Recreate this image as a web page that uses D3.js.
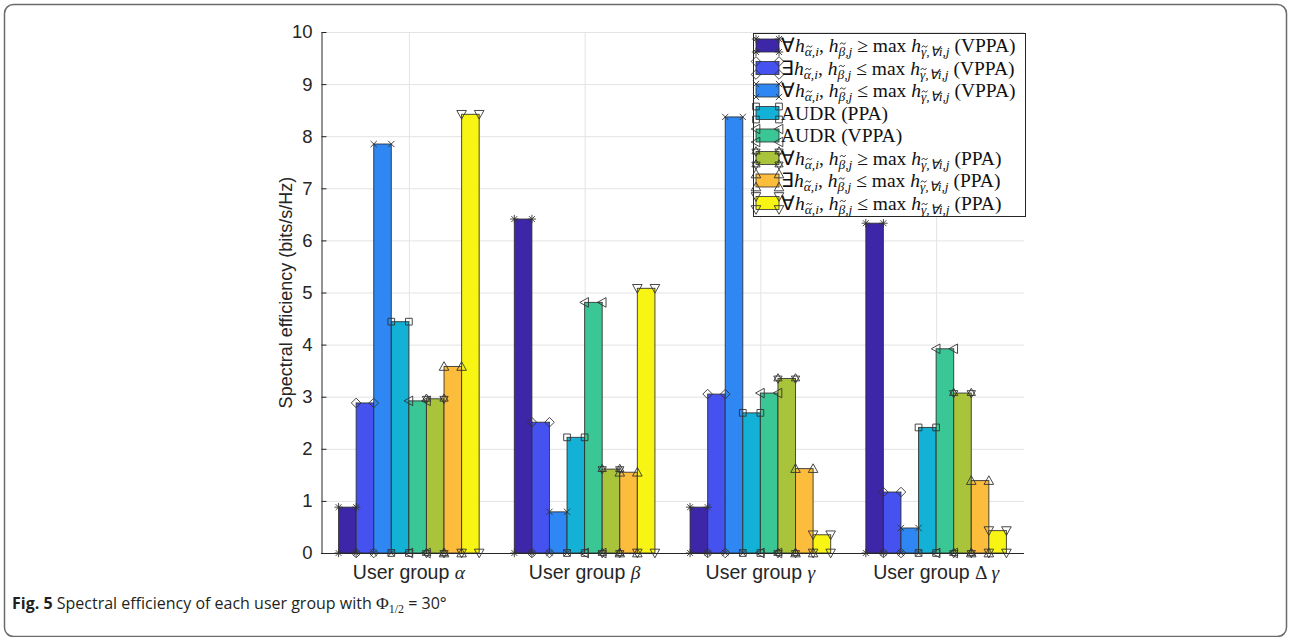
<!DOCTYPE html>
<html>
<head>
<meta charset="utf-8">
<script src="https://cdn.jsdelivr.net/npm/d3@7"></script>
<style>
  html, body { margin: 0; padding: 0; background: #fff; }
  svg { display: block; }
</style>
</head>
<body>
<div id="chart"></div>
<script>
// user groups on the x axis
const groups = ['α', 'β', 'γ', 'Δγ'];
const yTicks = [0, 1, 2, 3, 4, 5, 6, 7, 8, 9, 10];

// spectral efficiency per scheme, one value per user group
const forallGeVPPA = [0.88, 6.41, 0.88, 6.33];
const existsLeVPPA = [2.88, 2.51, 3.05, 1.17];
const forallLeVPPA = [7.85, 0.79, 8.37, 0.48];
const audrPPA = [4.44, 2.22, 2.69, 2.41];
const audrVPPA = [2.92, 4.81, 3.07, 3.92];
const forallGePPA = [2.96, 1.61, 3.35, 3.07];
const existsLePPA = [3.58, 1.55, 1.62, 1.39];
const forallLePPA = [8.42, 5.08, 0.35, 0.43];

const series = [
  { key: 'fgV', values: forallGeVPPA, q: '∀', rel: '≥', tag: 'VPPA' },
  { key: 'elV', values: existsLeVPPA, q: '∃', rel: '≤', tag: 'VPPA' },
  { key: 'flV', values: forallLeVPPA, q: '∀', rel: '≤', tag: 'VPPA' },
  { key: 'aP', values: audrPPA, plain: 'AUDR (PPA)' },
  { key: 'aV', values: audrVPPA, plain: 'AUDR (VPPA)' },
  { key: 'fgP', values: forallGePPA, q: '∀', rel: '≥', tag: 'PPA' },
  { key: 'elP', values: existsLePPA, q: '∃', rel: '≤', tag: 'PPA' },
  { key: 'flP', values: forallLePPA, q: '∀', rel: '≤', tag: 'PPA' },
];

const colors = ['#3e26a8', '#4552f0', '#2e87f2', '#12b1d5', '#3ac795', '#a9c43b', '#fdbd3c', '#f8f414'];

// matlab style marker glyphs, one per series
const markers = [
  r => `M${-r},0H${r}M0,${-r}V${r}M${-r * 0.7},${-r * 0.7}L${r * 0.7},${r * 0.7}M${-r * 0.7},${r * 0.7}L${r * 0.7},${-r * 0.7}`,
  r => `M0,${-r}L${r},0L0,${r}L${-r},0Z`,
  r => `M${-r * 0.75},${-r * 0.75}L${r * 0.75},${r * 0.75}M${-r * 0.75},${r * 0.75}L${r * 0.75},${-r * 0.75}`,
  r => `M${-r * 0.8},${-r * 0.8}H${r * 0.8}V${r * 0.8}H${-r * 0.8}Z`,
  r => `M${-r},0L${r * 0.8},${-r}L${r * 0.8},${r}Z`,
  r => {
    const a = r * 0.866, b = r * 0.5;
    return `M0,${-r}L${a},${b}L${-a},${b}ZM0,${r}L${a},${-b}L${-a},${-b}Z`;
  },
  r => `M0,${-r}L${r},${r * 0.8}L${-r},${r * 0.8}Z`,
  r => `M0,${r}L${r},${-r * 0.8}L${-r},${-r * 0.8}Z`,
];
const markerSize = i => (i === 1 || i >= 4 ? 4.8 : 4.2);

const W = 1290, H = 637;
const margin = { left: 321, right: 266, top: 32, bottom: 84 };
const axisColor = '#262626';
const sans = '"Liberation Sans", Arial, Helvetica, sans-serif';
const serif = '"Liberation Serif", "Times New Roman", serif';

const svg = d3.select('#chart').append('svg')
  .attr('width', W)
  .attr('height', H);

// figure frame
svg.append('rect')
  .attr('x', 4.5).attr('y', 4.5)
  .attr('width', W - 3.5 - 4.5).attr('height', 636.5 - 4.5)
  .attr('rx', 9)
  .attr('fill', 'none')
  .attr('stroke', '#6b6b6b')
  .attr('stroke-width', 1.5);

const x0 = d3.scaleBand()
  .domain(groups)
  .range([margin.left, W - margin.right])
  .paddingInner(0.2)
  .paddingOuter(0.1);

const x1 = d3.scaleBand()
  .domain(series.map(s => s.key))
  .range([0, x0.bandwidth()]);

const y = d3.scaleLinear()
  .domain([0, 10])
  .range([553, margin.top]);

const plotRight = x0.range()[1];

// grid
const grid = svg.append('g');
grid.selectAll('line.h')
  .data(yTicks.slice(1))
  .join('line')
  .attr('x1', margin.left).attr('x2', plotRight)
  .attr('y1', d => y(d) + 0.5).attr('y2', d => y(d) + 0.5)
  .attr('stroke', '#e3e3e3');
grid.selectAll('line.v')
  .data(groups)
  .join('line')
  .attr('x1', d => x0(d) + x0.bandwidth() / 2 + 0.5)
  .attr('x2', d => x0(d) + x0.bandwidth() / 2 + 0.5)
  .attr('y1', y(0)).attr('y2', y(10))
  .attr('stroke', '#e3e3e3');

// bars
const bars = [];
series.forEach((s, si) => {
  s.values.forEach((v, gi) => {
    bars.push({ si, g: groups[gi], key: s.key, value: v });
  });
});

svg.append('g')
  .selectAll('rect')
  .data(bars)
  .join('rect')
  .attr('x', d => x0(d.g) + x1(d.key))
  .attr('y', d => y(d.value))
  .attr('width', x1.bandwidth())
  .attr('height', d => y(0) - y(d.value))
  .attr('fill', d => colors[d.si])
  .attr('stroke', '#2b2b2b')
  .attr('stroke-opacity', 0.85)
  .attr('stroke-width', 1);

// axes
const yAxis = svg.append('g')
  .attr('transform', `translate(${margin.left + 0.5},0)`)
  .call(d3.axisLeft(y).tickValues(yTicks).tickSizeInner(-5).tickSizeOuter(0).tickPadding(9));
yAxis.select('.domain').attr('stroke', axisColor);
yAxis.selectAll('.tick line').attr('stroke', axisColor);
yAxis.selectAll('.tick text')
  .attr('font-family', sans)
  .attr('font-size', 18.5)
  .attr('fill', axisColor);

svg.append('line')
  .attr('x1', margin.left).attr('x2', plotRight)
  .attr('y1', y(0) + 0.5).attr('y2', y(0) + 0.5)
  .attr('stroke', axisColor);

// bar corner markers
const marks = [];
bars.forEach(b => {
  const left = x0(b.g) + x1(b.key);
  const right = left + x1.bandwidth();
  [[left, y(b.value)], [right, y(b.value)], [left, y(0)], [right, y(0)]].forEach(([mx, my]) => {
    marks.push({ si: b.si, mx, my });
  });
});
svg.append('g')
  .selectAll('path')
  .data(marks)
  .join('path')
  .attr('transform', d => `translate(${d.mx},${d.my})`)
  .attr('d', d => markers[d.si](markerSize(d.si)))
  .attr('fill', 'none')
  .attr('stroke', '#333')
  .attr('stroke-width', 0.9);

// x labels
const xl = svg.append('g')
  .selectAll('text')
  .data(groups)
  .join('text')
  .attr('x', d => x0(d) + x0.bandwidth() / 2)
  .attr('y', 579)
  .attr('text-anchor', 'middle')
  .attr('font-family', sans)
  .attr('font-size', 19.5)
  .attr('fill', axisColor);
xl.append('tspan').text('User group ');
xl.each(function (d) {
  const t = d3.select(this);
  if (d === 'Δγ') {
    t.append('tspan').attr('font-family', serif).text('Δ ');
    t.append('tspan').attr('font-family', serif).attr('font-style', 'italic').text('γ');
  } else {
    t.append('tspan').attr('font-family', serif).attr('font-style', 'italic').text(d);
  }
});

// y label
svg.append('text')
  .attr('transform', `translate(292,${(y(0) + y(10)) / 2}) rotate(-90)`)
  .attr('text-anchor', 'middle')
  .attr('font-family', sans)
  .attr('font-size', 18)
  .attr('fill', axisColor)
  .text('Spectral efficiency (bits/s/Hz)');

// legend
const lg = svg.append('g');
const lgX = 753, lgY = 33, rowH = 22.5;
lg.append('rect')
  .attr('x', lgX + 0.5).attr('y', lgY + 0.5)
  .attr('width', 272).attr('height', 183)
  .attr('fill', '#fff')
  .attr('stroke', '#262626');

const rows = lg.selectAll('g.row')
  .data(series)
  .join('g')
  .attr('transform', (d, i) => `translate(0,${lgY + 12.5 + i * rowH})`);

rows.append('rect')
  .attr('x', 756).attr('y', -6.5)
  .attr('width', 23).attr('height', 13)
  .attr('fill', (d, i) => colors[i])
  .attr('stroke', '#2b2b2b')
  .attr('stroke-width', 0.8);

const lgFont = 19.5, subFont = 13.5, baseY = 6.5, subDy = 4;
rows.each(function (d, i) {
  const g = d3.select(this);
  [[756, -6.5], [779, -6.5], [756, 6.5], [779, 6.5]].forEach(([mx, my]) => {
    g.append('path')
      .attr('transform', `translate(${mx},${my})`)
      .attr('d', markers[i](markerSize(i)))
      .attr('fill', 'none')
      .attr('stroke', '#333')
      .attr('stroke-width', 0.9);
  });

  const t = g.append('text')
    .attr('x', 781)
    .attr('y', baseY)
    .attr('font-family', serif)
    .attr('font-size', lgFont)
    .attr('fill', '#111');
  if (d.plain) {
    t.text(d.plain);
    return;
  }

  let len = 0;
  const tilded = [];
  const part = (txt, opts = {}) => {
    const s = t.append('tspan').text(txt);
    if (opts.italic) s.attr('font-style', 'italic');
    if (opts.size) s.attr('font-size', opts.size);
    if (opts.dy) s.attr('dy', opts.dy);
    len += txt.length;
  };
  // subscript with a tilde over the greek letter
  const sub = (letter, rest) => {
    tilded.push({ idx: len, tall: letter === 'β' });
    part(letter + rest, { italic: true, size: subFont, dy: subDy });
  };
  part(d.q);
  part('h', { italic: true });
  sub('α', ',i');
  part(', ', { dy: -subDy });
  part('h', { italic: true });
  sub('β', ',j');
  part(` ${d.rel} max `, { dy: -subDy });
  part('h', { italic: true });
  sub('γ', ',∀i,j');
  part(` (${d.tag})`, { dy: -subDy });

  tilded.forEach(c => {
    const ext = t.node().getExtentOfChar(c.idx);
    const cx = ext.x + ext.width / 2 + 1;
    const cy = baseY + subDy - (c.tall ? 12.5 : 9.5);
    g.append('path')
      .attr('transform', `translate(${cx},${cy})`)
      .attr('d', 'M-2.8,0.9C-1.8,-1.2,-0.8,-0.6,0,0S1.8,1.2,2.8,-0.9')
      .attr('fill', 'none')
      .attr('stroke', '#111')
      .attr('stroke-width', 0.9);
  });
});

// caption
const cap = svg.append('text')
  .attr('x', 12)
  .attr('y', 609)
  .attr('font-family', '"Open Sans", "Noto Sans", sans-serif')
  .attr('font-size', 16)
  .attr('fill', '#231f20');
cap.append('tspan').attr('font-weight', 'bold').text('Fig. 5');
cap.append('tspan').text(' Spectral efficiency of each user group with ');
cap.append('tspan').attr('font-family', serif).attr('font-size', 17.5).text('Φ');
cap.append('tspan').attr('font-family', serif).attr('font-size', 12).attr('dy', 4).text('1/2');
cap.append('tspan').attr('dy', -4).text(' = 30°');
</script>
</body>
</html>
